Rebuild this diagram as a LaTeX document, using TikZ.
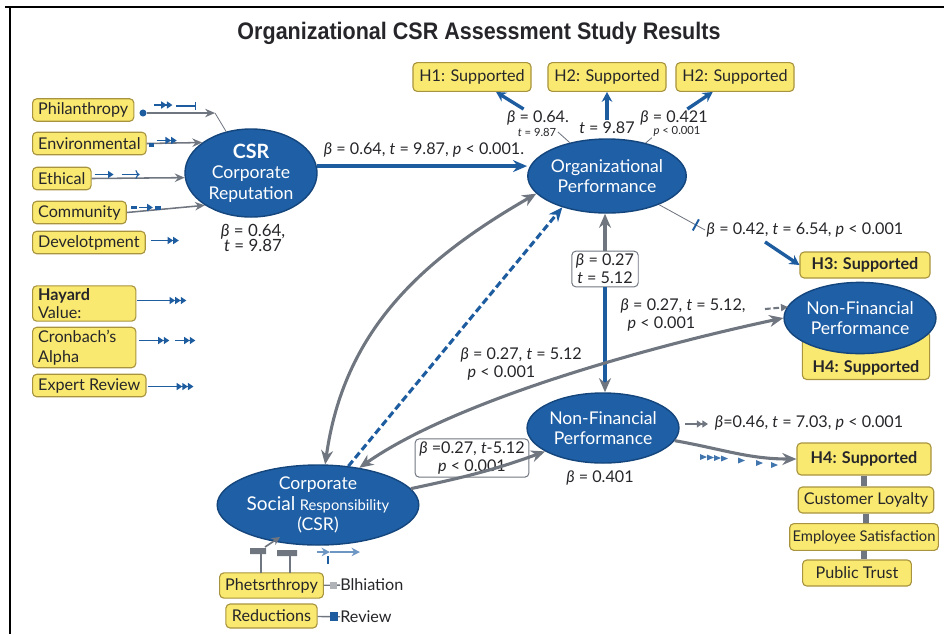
\documentclass[tikz,border=0pt]{standalone}
\usepackage{fontspec}
\setmainfont{Lato}
\newfontfamily\titlefont[FakeStretch=0.9]{Liberation Sans}
\usetikzlibrary{arrows,arrows.meta,positioning,shapes.geometric}
\definecolor{csrblue}{RGB}{31,95,165}
\definecolor{csredge}{RGB}{20,70,125}
\definecolor{boxyellow}{RGB}{250,233,112}
\definecolor{boxedge}{RGB}{168,148,62}
\definecolor{linkgray}{RGB}{112,118,128}
\definecolor{linkblue}{RGB}{30,92,160}
\definecolor{paleblue}{RGB}{110,150,195}
\definecolor{textdark}{RGB}{38,38,42}
\newcommand{\bet}{\textit{β}}
\newcommand{\tst}{\textit{t}}
\newcommand{\pst}{\textit{p}}
\tikzset{
    >={Stealth[length=10pt,width=8.5pt]},
    font=\fontsize{11.5}{13}\selectfont,
    text=textdark,
    title text/.style={font=\titlefont\bfseries\fontsize{17}{20}\selectfont},
    construct/.style={ellipse,draw=csredge,fill=csrblue,line width=1pt,text=white,align=center,inner sep=0pt,font=\fontsize{12.5}{14.5}\selectfont},
    yellow box/.style={draw=boxedge,fill=boxyellow,rounded corners=3pt,line width=0.8pt,inner xsep=4pt,inner ysep=2pt,minimum height=16pt},
    hyp box/.style={yellow box,minimum width=2.95cm,minimum height=0.72cm},
    bold box/.style={yellow box,font=\fontsize{11.5}{13}\selectfont\bfseries},
    stat/.style={align=center,inner sep=1pt},
    small stat/.style={stat,font=\fontsize{8}{9}\selectfont},
    stat box/.style={stat,draw=linkgray,fill=white,rounded corners=3pt,line width=0.7pt,inner xsep=3pt,inner ysep=2pt},
    gray path/.style={draw=linkgray,line width=2.2pt},
    blue path/.style={draw=linkblue,line width=2.6pt},
    short arrow/.style={draw=linkblue,line width=2.4pt,-{Stealth[length=7pt,width=7.5pt]}},
    gray link/.style={draw=linkgray,line width=1.1pt,-{Stealth[length=7pt,width=6pt]}},
    thin path/.style={draw=linkgray,line width=0.6pt},
    mini/.style={draw=linkblue,line width=1.2pt,-{Triangle[length=4pt,width=5pt]}},
    mini2/.style={draw=linkblue,line width=1.2pt,-{Triangle[length=4pt,width=5pt]Triangle[length=4pt,width=5pt]}},
    mini3/.style={draw=linkblue,line width=1.2pt,-{Triangle[length=4pt,width=5pt]Triangle[length=4pt,width=5pt]Triangle[length=4pt,width=5pt]}},
    link bar/.style={draw=linkgray,line width=4pt},
}
\begin{document}
\begin{tikzpicture}[x=0.025cm,y=-0.025cm]
    \useasboundingbox (0,0) rectangle (944,634);
    \draw[line width=1.2pt] (5,7) -- (944,7) (10,7) -- (10,634);
    \node[title text] (title) at (479,33) {Organizational CSR Assessment Study Results};

    % constructs
    \node[construct,minimum width=3.3cm,minimum height=2.2cm] (rep) at (251,173)
        {{\fontsize{14}{16}\selectfont\bfseries CSR}\\Corporate\\Reputation};
    \node[construct,minimum width=3.5cm,minimum height=1.85cm] (org) at (607,176) {Organizational\\Performance};
    \node[yellow box,minimum width=3.18cm,minimum height=1.2cm,anchor=south,
        label={[font=\fontsize{11.5}{13}\selectfont\bfseries,anchor=south]south:{H4: Supported}}] (h4box) at (866,380) {};
    \node[construct,minimum width=3.65cm,minimum height=1.78cm] (nfpR) at (860,318) {Non-Financial\\Performance};
    \node[construct,minimum width=3.5cm,minimum height=1.75cm] (nfp) at (603,428) {Non-Financial\\Performance};
    \node[construct,minimum width=3.9cm,minimum height=2cm] (csr) at (318,505)
        {Corporate\\{\fontsize{13.5}{15}\selectfont Social} {\fontsize{10.5}{12}\selectfont Responsibility}\\(CSR)};

    % dimensions
    \node[yellow box,anchor=west] (phil) at (32,110) {Philanthropy};
    \node[yellow box,anchor=west] (env) at (32,143.5) {Environmental};
    \node[yellow box,anchor=west] (eth) at (32,178.5) {Ethical};
    \node[yellow box,anchor=west] (comm) at (32,212.5) {Community};
    \node[yellow box,anchor=west] (dev) at (32,242.5) {Develotpment};
    \node[yellow box,anchor=west,text width=2.3cm,align=left,font=\fontsize{11.5}{12.5}\selectfont] (hay) at (32,303.5) {\textbf{Hayard}\\Value:};
    \node[yellow box,anchor=west,text width=2.3cm,align=left,font=\fontsize{11.5}{14}\selectfont] (cron) at (32,347.5) {Cronbach’s\\Alpha};
    \node[yellow box,anchor=west] (expert) at (32,385.5) {Expert Review};

    % hypotheses
    \node[hyp box] (h1) at (472,77) {H1: Supported};
    \node[hyp box] (h2) at (607,77) {H2: Supported};
    \node[hyp box] (h2b) at (735,77) {H2: Supported};
    \node[bold box,minimum width=3.25cm,minimum height=0.65cm] (h3) at (865,265) {H3: Supported};
    \node[bold box,minimum width=3.35cm,minimum height=0.8cm] (h4) at (864,459) {H4: Supported};
    \node[yellow box,minimum width=3.35cm,minimum height=0.65cm] (loyal) at (866,500) {Customer Loyalty};
    \node[yellow box,minimum width=3.6cm,minimum height=0.67cm,inner xsep=2pt,font=\fontsize{10.5}{12}\selectfont] (staff) at (864,537) {Employee Satisfaction};
    \node[yellow box,minimum width=2.72cm,minimum height=0.65cm] (trust) at (857,573) {Public Trust};

    % bottom items
    \node[yellow box,minimum width=2.28cm,minimum height=0.63cm] (phet) at (271.5,585.5) {Phetsrthropy};
    \node[yellow box,minimum width=2.28cm,minimum height=0.6cm] (reduc) at (271.5,616) {Reductions};
    \node[anchor=west,inner sep=0pt] (blh) at (340,585) {Blhiation};
    \node[anchor=west,inner sep=0pt] (review) at (340,617) {Review};

    % statistics
    \node[stat] (s1) at (424,150) {\bet{} = 0.64, \tst{} = 9.87, \pst{} < 0.001.};
    \node[stat,font=\fontsize{12}{11}\selectfont] (s2) at (253,238) {\bet{} = 0.64,\\\tst{} = 9.87};
    \node[stat] (b1) at (538,118) {\bet{} = 0.64.};
    \node[small stat] (t1) at (537,132) {\tst{} = 9.87};
    \node[stat] (t2) at (607,128) {\tst{} = 9.87};
    \node[stat] (b2) at (674,118) {\bet{} = 0.421};
    \node[small stat] (p2) at (677,131) {\pst{} < 0.001};
    \node[stat] (s5) at (805,230) {\bet{} = 0.42, \tst{} = 6.54, \pst{} < 0.001};
    \node[stat box] (s6) at (605,269) {\bet{} = 0.27\\\tst{} = 5.12};
    \node[stat,anchor=west,align=left] (s7) at (619,315) {\bet{} = 0.27, \tst{} = 5.12,\\\hspace*{5pt}\pst{} < 0.001};
    \node[stat,anchor=west,align=left] (s8) at (459,364) {\bet{} = 0.27, \tst{} = 5.12\\\hspace*{5pt}\pst{} < 0.001};
    \node[stat box] (s9) at (472,458) {\bet{} =0.27, \tst{}-5.12\\\pst{} < 0.001};
    \node[stat] (s10) at (600,478) {\bet{} = 0.401};
    \node[stat] (s11) at (809,423) {\bet{}=0.46, \tst{} = 7.03, \pst{} < 0.001};

    \node[circle,fill=linkblue,inner sep=0pt,minimum size=5pt] (phildot) at (143,113) {};
    \coordinate (philtip) at (215,113);

    % paths
    \path
        (rep.6) edge[blue path,->] (rep.6 -| org.west)
        (b1) edge[short arrow] (h1)
        (t2) edge[short arrow] (h2)
        (b2) edge[short arrow] (h2b)
        (t1.east) edge[thin path] (org)
        (p2.south west) edge[thin path] (org)
        (org) edge[thin path] node[pos=0.8,sloped,draw=linkblue,line width=1.4pt,minimum height=9pt,minimum width=0pt,inner sep=0pt] {} (s5.west)
        ([shift={(-40,3)}]s5.south) edge[short arrow] (h3.west)
        (s6.north) edge[gray path,->] (s6.north |- org.south)
        (s6.south) edge[blue path,line width=2.2pt,-{Stealth[length=10pt,width=8.5pt,color=linkgray]}] (s6.south |- nfp.north)
        (csr.80) edge[gray path,<->,out=82,in=210] (org.194)
        (csr.52) edge[blue path,line width=2.2pt,dash pattern=on 5pt off 2.5pt,->] (org.215)
        (csr.42) edge[gray path,<->,out=35,in=192,looseness=0.7] (nfpR.west)
        (csr.10) edge[gray path,->,out=12,in=200] (nfp.202)
        (nfp.-10) edge[gray path,->,out=-10,in=180] (h4.west)
        (phildot) edge[gray link] (philtip)
        (philtip) edge[thin path] (rep)
        (env.east) edge[gray link] (rep.148)
        (eth.east) edge[gray link] (rep.184)
        (comm.east) edge[gray link] (rep.215)
        (phet) edge[draw=linkgray,line width=1pt] node[pos=0.6,fill=linkgray!55,minimum size=5pt,inner sep=0pt] {} (blh)
        (reduc) edge[draw=linkgray,line width=1pt] node[pos=0.74,fill=linkblue,minimum size=6pt,inner sep=0pt] {} (review)
        ;
    \path[link bar] (h4.south) -- (h4.south |- loyal.north) (loyal.south) -- (loyal.south |- staff.north)
        (staff.south) -- (staff.south |- trust.north);

    % small marks
    \draw[mini2] ([shift={(20,-5)}]phil.east) -- +(18,0);
    \draw[linkblue,line width=1pt,-{Bar[width=6pt]}] ([shift={(42,-4)}]phil.east) -- +(20,0);
    \fill[linkblue] ([shift={(2,-1)}]env.east) rectangle +(5,4);
    \draw[mini2] ([shift={(10,-3)}]env.east) -- +(20,0);
    \draw[mini] ([shift={(3,-4)}]eth.east) -- +(19,0);
    \draw[linkblue,line width=0.8pt,-{To[length=3pt]}] ([shift={(30,-4)}]eth.east) -- +(18,0);
    \draw[linkblue,line width=1.5pt] ([shift={(4,-5)}]comm.east) -- +(6,0);
    \draw[mini] ([shift={(12,-5)}]comm.east) -- +(14,0);
    \fill[linkblue] ([shift={(28,-7)}]comm.east) rectangle +(6,4);
    \draw[mini2] ([shift={(5,-2)}]dev.east) -- +(28,0);
    \draw[mini3] ([shift={(1,-3)}]hay.east) -- +(49,0);
    \draw[mini2] ([shift={(3,-7)}]cron.east) -- +(30,0);
    \draw[mini2] ([shift={(39,-7)}]cron.east) -- +(20,0);
    \draw[mini3] ([shift={(1,1)}]expert.east) -- +(46,0);
    \draw[linkgray,line width=1.5pt,-{Triangle[length=4pt,width=5pt]Triangle[length=4pt,width=5pt]}] (685,424) -- (708,424);
    \draw[linkgray,line width=1.5pt,dash pattern=on 4pt off 2pt,-{Triangle[length=5pt,width=5pt]}] (765,309) -- (788,307);
    \foreach \x/\y in {700/457,707/457.5,714/458,721/458.5,738/460.5,756/463,771/465}
        \fill[linkblue!85] (\x,\y-3) -- ++(7,3) -- ++(-7,3) -- cycle;
    \draw[linkgray,line width=1.2pt] (261,573) -- (261,551) (290,573) -- (290,553);
    \fill[linkgray] (250,548) rectangle (266,554) (277,550) rectangle (297,556);
    \draw[linkgray,line width=1.2pt,-{Stealth[length=6pt,width=6pt]}] (265,547) -- (280,537);
    \draw[paleblue,line width=1pt,-{Stealth[length=6pt,width=6pt]}] (317,552) -- (330,552);
    \draw[paleblue,line width=1pt,-{Stealth[length=6pt,width=6pt]}] (330,552) -- (360,552);
    \draw[linkblue,line width=1.5pt] (328,556) -- (328,564);
\end{tikzpicture}
\end{document}
